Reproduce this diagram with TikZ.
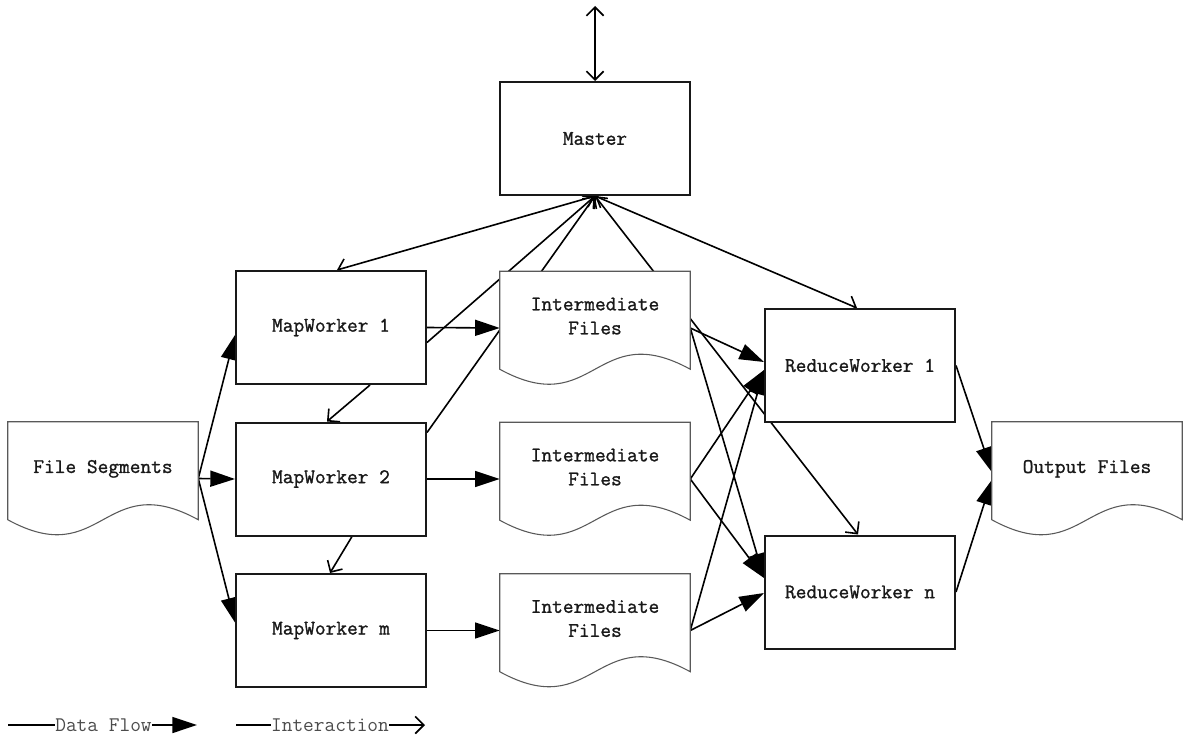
\documentclass[tikz,border=0pt]{standalone}
\usepackage{fontspec}
\newfontfamily\lblfont{Latin Modern Mono}[FakeBold=1.2]
\usetikzlibrary{arrows.meta,calc}
\pgfdeclarelayer{bg}
\pgfdeclarelayer{mid}
\pgfsetlayers{bg,mid,main}
\tikzset{
  box/.style={draw=black!90, line width=1.5pt, fill=white, minimum width=142.5pt, minimum height=84.75pt, inner sep=0pt},
  doc/.style={minimum width=142.5pt, minimum height=84.75pt, inner sep=0pt, align=center},
  lbl/.style={font=\fontsize{15.6}{18}\selectfont\lblfont, text=black!90},
  leg/.style={font=\fontsize{15.6}{18}\selectfont\ttfamily, text=black!70, inner sep=0pt},
  docline/.style={draw=black!65, line width=0.8pt, fill=white},
  data/.style={line width=1.2pt, -{Triangle[length=18.5pt,width=12pt]}},
  inter/.style={line width=1.2pt, -{Straight Barb[length=6.5pt,width=13pt]}},
  interb/.style={line width=1.2pt, {Straight Barb[length=6.5pt,width=13pt]}-{Straight Barb[length=6.5pt,width=13pt]}},
}
\newcommand\docoutline[1]{%
  \begin{pgfonlayer}{mid}
    \draw[docline] (#1.north west) -- (#1.north east) -- ($(#1.north east)+(0,98)$)
      .. controls +(-95,-52) and +(95,52) .. ($(#1.north west)+(0,98)$) -- cycle;
  \end{pgfonlayer}}
\begin{document}
\begin{tikzpicture}[x=0.75pt,y=-0.75pt]
\useasboundingbox (0,0) rectangle (1192,738);

% process boxes
\node[box,lbl] (master) at (595,138.5) {Master};
\node[box,lbl] (mw1) at (331,327.5) {MapWorker 1};
\node[box,lbl] (mw2) at (331,479) {MapWorker 2};
\node[box,lbl] (mwm) at (331,630.5) {MapWorker m};
\node[box,lbl] (rw1) at (860,365.5) {ReduceWorker 1};
\node[box,lbl] (rwn) at (860,592) {ReduceWorker n};

% documents
\node[doc,lbl] (fs) at (103,478.5) {File Segments\\\mbox{}};
\node[doc,lbl] (if1) at (595,328) {Intermediate\\Files\\\mbox{}};
\node[doc,lbl] (if2) at (595,479) {Intermediate\\Files\\\mbox{}};
\node[doc,lbl] (if3) at (595,630.5) {Intermediate\\Files\\\mbox{}};
\node[doc,lbl] (of) at (1087,478.5) {Output Files\\\mbox{}};
\docoutline{fs}
\docoutline{if1}
\docoutline{if2}
\docoutline{if3}
\docoutline{of}

\coordinate (topend) at (595,6);

\begin{pgfonlayer}{bg}
  % interaction
  \draw[interb] (topend) -- (master.north);
  \draw[interb] (master.south) -- ($(mw1.north)+(6,0)$);
  \draw[interb] (master.south) -- ($(rw1.north)+(-3,0)$);
  \draw[interb] (master.south) -- ($(rwn.north)+(-2,0)$);
  \draw[inter] ($(mw1.east)+(0,15)$) -- (master.south);
  \draw[inter] ($(mw2.north east)+(0,11)$) -- (master.south);
  \draw[inter] ($(mw1.south)+(39,0)$) -- ($(mw2.north)+(-4,0)$);
  \draw[inter] ($(mw2.south)+(21,0)$) -- ($(mwm.north)+(-1,0)$);
  % data flow
  \draw[data] (fs.east) -- ($(mw1.west)+(0,7.5)$);
  \draw[data] (fs.east) -- (mw2.west);
  \draw[data] (fs.east) -- ($(mwm.west)+(0,-8)$);
  \draw[data] (mw1.east) -- (if1.west);
  \draw[data] (mw2.east) -- (if2.west);
  \draw[data] (mwm.east) -- (if3.west);
  \draw[data] (if1.east) -- ($(rw1.west)+(0,-3.5)$);
  \draw[data] (if1.east) -- ($(rwn.west)+(0,-14)$);
  \draw[data] (if2.east) -- ($(rw1.west)+(0,4.5)$);
  \draw[data] (if2.east) -- ($(rwn.west)+(0,-14)$);
  \draw[data] (if3.east) -- ($(rw1.west)+(0,4.5)$);
  \draw[data] (if3.east) -- ($(rwn.west)+(0,1)$);
  \draw[data] (rw1.east) -- ($(of.west)+(0,-6.5)$);
  \draw[data] (rwn.east) -- ($(of.west)+(0,1.5)$);
\end{pgfonlayer}

% legend
\coordinate (d0) at (8,725);
\coordinate (d1) at (197,725);
\node[leg] (dlab) at (103.5,725) {Data Flow};
\draw[line width=1.2pt] (d0) -- (dlab.west);
\draw[data] (dlab.east) -- (d1);
\coordinate (i0) at (236,725);
\coordinate (i1) at (425,725);
\node[leg] (ilab) at (330,725) {Interaction};
\draw[line width=1.2pt] (i0) -- (ilab.west);
\draw[inter] (ilab.east) -- (i1);
\end{tikzpicture}
\end{document}
